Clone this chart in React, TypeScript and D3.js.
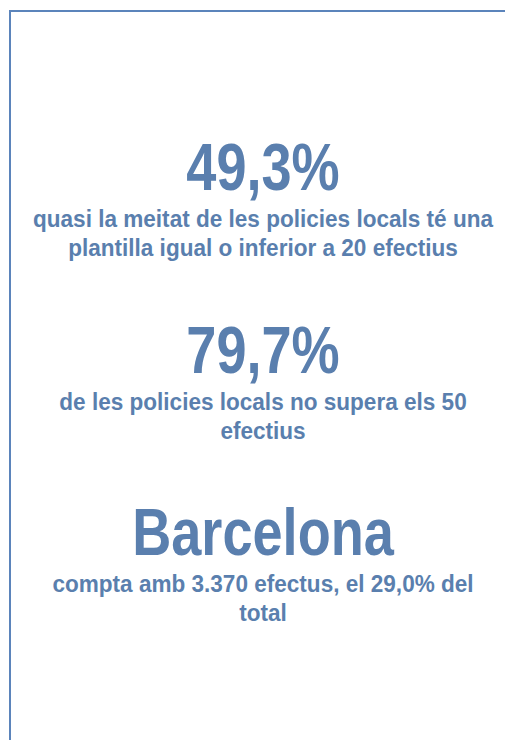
import React from "react";
import * as d3 from "d3";

const headlines: string[] = ["49,3%", "79,7%", "Barcelona"];
const descriptions: string[][] = [
  ["quasi la meitat de les policies locals té una", "plantilla igual o inferior a 20 efectius"],
  ["de les policies locals no supera els 50", "efectius"],
  ["compta amb 3.370 efectus, el 29,0% del", "total"],
];

const W = 505;
const H = 740;
const TEXT = "#5a7fae";
const BORDER = "#5b84bb";
const FONT = "'Liberation Sans', Arial, sans-serif";

export default function App() {
  const y = d3.scaleOrdinal<number, number>().domain([0, 1, 2]).range([190, 373, 555]);
  const cx = 263;
  return (
    <svg width={W} height={H} style={{ position: "absolute", left: 0, top: 0, background: "#fff" }}>
      <rect x={0} y={0} width={W} height={H} fill="#fff" />
      <line x1={10} y1={11} x2={W} y2={11} stroke={BORDER} strokeWidth={2} />
      <line x1={10} y1={10} x2={10} y2={H} stroke={BORDER} strokeWidth={2} />
      {headlines.map((h, i) => (
        <g key={i} fontFamily={FONT} fontWeight="bold" fill={TEXT} textAnchor="middle">
          <g transform={`translate(${cx},${y(i)}) scale(0.82,1)`}>
            <text x={0} y={0} fontSize={66}>{h}</text>
          </g>
          {descriptions[i].map((line, j) => (
            <g key={j} transform={`translate(${cx},${y(i) + 37 + j * 28.5}) scale(0.94,1)`}>
              <text x={0} y={0} fontSize={24}>{line}</text>
            </g>
          ))}
        </g>
      ))}
    </svg>
  );
}
